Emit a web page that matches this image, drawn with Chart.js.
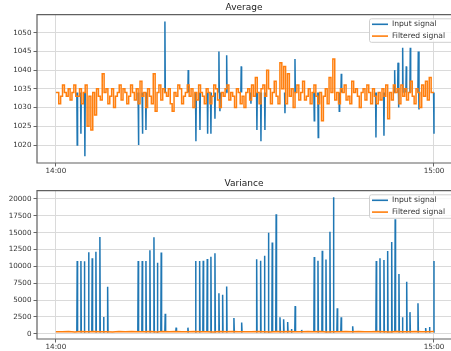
<!DOCTYPE html>
<html>
<head>
<meta charset="utf-8">
<script src="https://cdn.jsdelivr.net/npm/chart.js@4.4.0/dist/chart.umd.min.js"></script>
<style>
  html, body { margin: 0; padding: 0; background: #fff; }
  canvas { position: absolute; left: 0; }
</style>
</head>
<body>
<canvas id="avg-chart" width="451" height="176" style="top:0"></canvas>
<canvas id="var-chart" width="451" height="175" style="top:176px"></canvas>
<script>
'use strict';

const SERIES_LABELS = ['Input signal', 'Filtered signal'];
const BLUE = '#1f77b4';
const ORANGE = '#ff7f0e';

// minutes after 14:00
const xTickValues = [0, 60];
const xTickLabels = ['14:00', '15:00'];

const avgYTicks = [1020, 1025, 1030, 1035, 1040, 1045, 1050];
const varYTicks = [0, 2500, 5000, 7500, 10000, 12500, 15000, 17500, 20000];

// Average, input signal: sits under the filtered line except for these spikes
const avgInputBase = 1034;
const avgSpikeTimes = [3.38, 3.97, 4.60, 13.10, 13.73, 14.29, 17.30, 21.00, 22.22, 22.86,
  24.08, 24.60, 25.24, 25.87, 26.03, 27.10, 29.41, 30.95, 31.90, 32.54, 33.17, 36.35,
  37.94, 41.00, 41.63, 44.97, 45.29, 50.79, 52.06, 53.76, 54.29, 54.37, 55.03, 55.60,
  56.24, 57.51, 57.62, 60.00];
const avgSpikeValues = [1020, 1023, 1017, 1020, 1023, 1024, 1053, 1040, 1021, 1024,
  1023, 1023, 1027, 1045, 1029, 1044, 1041, 1031, 1024, 1021, 1024, 1028.5,
  1043, 1026.5, 1022, 1029, 1039, 1022, 1022.5, 1040, 1042, 1030, 1046, 1041,
  1046, 1045, 1029.5, 1023];

// Average, filtered signal: one value every 0.3 min
const avgFilteredStep = 0.3;
const avgFiltered = [
  1034, 1034, 1031, 1033, 1036, 1034, 1033, 1035, 1032, 1034,
  1036, 1033, 1033, 1035, 1031, 1034, 1036, 1025, 1033, 1024,
  1034, 1028, 1035, 1033, 1032, 1039, 1034, 1035, 1031, 1033,
  1035, 1030, 1033, 1034, 1036, 1032, 1035, 1034, 1031, 1033,
  1036, 1034, 1032, 1035, 1031, 1037, 1033, 1034, 1030, 1035,
  1033, 1031, 1039, 1029, 1034, 1036, 1032, 1035, 1034, 1033,
  1035, 1031, 1029, 1034, 1033, 1036, 1035, 1031, 1033, 1034,
  1036, 1033, 1035, 1030, 1034, 1032, 1036, 1034, 1033, 1031,
  1035, 1034, 1031, 1033, 1036, 1035, 1032, 1030, 1034, 1033,
  1035, 1036, 1032, 1034, 1033, 1030, 1035, 1034, 1031, 1033,
  1030, 1034, 1035, 1032, 1036, 1033, 1038, 1034, 1031, 1035,
  1036, 1033, 1040, 1035, 1031, 1034, 1037, 1033, 1031, 1042,
  1035, 1041, 1031, 1039, 1033, 1035, 1030, 1034, 1036, 1032,
  1034, 1037, 1032, 1033, 1035, 1031, 1034, 1036, 1033, 1031,
  1034, 1026.5, 1033, 1035, 1031, 1038, 1034, 1043, 1032, 1034,
  1031, 1035, 1034, 1036, 1032, 1033, 1031, 1037, 1034, 1035,
  1033, 1030, 1034, 1035, 1032, 1036, 1034, 1031, 1035, 1033,
  1031, 1034, 1032, 1035, 1033, 1036, 1027, 1034, 1032, 1036,
  1034, 1035, 1031, 1036, 1033, 1035, 1032, 1034, 1037, 1033,
  1031, 1035, 1034, 1030, 1036, 1033, 1037, 1032, 1038, 1034,
  1034
];

// Variance, input signal: hidden under the filtered line except for these spikes
const varInputBase = 250;
const varSpikeTimes = [3.38, 3.97, 4.52, 5.19, 5.76, 6.35, 6.98, 7.57, 8.21,
  13.06, 13.70, 14.29, 14.92, 15.56, 16.11, 16.71, 17.35, 19.08, 20.95,
  22.17, 22.81, 23.38, 24.02, 24.60, 25.24, 25.87, 26.46, 27.10, 28.25, 29.48,
  31.86, 32.49, 33.10, 33.73, 34.33, 34.95, 35.56, 36.14, 36.78, 37.38, 37.97, 39.00,
  41.00, 41.59, 42.27, 42.86, 43.49, 44.05, 44.65, 45.27, 47.10,
  50.84, 51.43, 52.06, 52.65, 53.29, 53.84, 54.44, 55.00, 55.67, 56.19, 57.46, 58.68, 59.29, 60.00];
const varSpikeValues = [10800, 10800, 10750, 12100, 11200, 12150, 14350, 2480, 6950,
  10800, 10800, 10800, 12400, 14300, 10550, 12050, 2950, 890, 890,
  10800, 10800, 10840, 11090, 11430, 11930, 6000, 5790, 7000, 2330, 1660,
  11050, 10820, 11580, 15000, 13540, 17730, 2450, 2140, 1730, 700, 4090, 550,
  11370, 10820, 12330, 11020, 15150, 20250, 3770, 2450, 1090,
  10800, 11190, 10940, 12280, 13600, 17000, 8860, 2430, 7720, 3200, 4510, 830, 1000, 10800];

// Variance, filtered signal: one value a minute
const varFilteredStep = 1;
const varFiltered = [300, 280, 320, 260, 310, 290, 340, 270, 300, 250,
  330, 290, 310, 270, 300, 340, 260, 310, 290, 320,
  270, 300, 330, 280, 300, 260, 310, 290, 340, 280,
  300, 270, 320, 300, 260, 310, 290, 330, 270, 300,
  310, 280, 320, 260, 300, 290, 340, 280, 310, 270,
  300, 320, 290, 260, 310, 300, 280, 330, 290, 300, 310];

const FONT = 'DejaVu Sans';
const TEXT_COLOR = '#333333';

// Input line pieces: a narrow excursion from the base value for every spike,
// with a gap between spikes that do not touch.
function spikePoints(base, times, values, end) {
  const w = 0.06;
  const pts = [];
  times.forEach((t, i) => {
    const last = pts[pts.length - 1];
    if (last && t - w <= last.x) {
      pts.pop();
    } else {
      if (last) pts.push({x: (last.x + t - w) / 2, y: null});
      pts.push({x: t - w, y: base});
    }
    pts.push({x: t, y: values[i]});
    if (t + w <= end) pts.push({x: t + w, y: base});
  });
  return pts;
}

function gridPoints(step, values) {
  return values.map((v, i) => ({x: i * step, y: v}));
}

const framePlugin = {
  id: 'frame',
  afterDatasetsDraw(chart) {
    const {ctx, chartArea: a} = chart;
    ctx.save();
    ctx.strokeStyle = '#606060';
    ctx.lineWidth = 1.2;
    ctx.beginPath();
    ctx.moveTo(a.right, a.top);
    ctx.lineTo(a.left, a.top);
    ctx.lineTo(a.left, a.bottom);
    ctx.lineTo(a.right, a.bottom);
    ctx.stroke();
    ctx.restore();
  }
};

// matplotlib style legend box in the upper right corner
const boxLegendPlugin = {
  id: 'boxLegend',
  afterDraw(chart) {
    const {ctx, chartArea: a} = chart;
    const left = a.right - 82;
    const top = a.top + 3.6;
    ctx.save();
    ctx.fillStyle = 'rgba(255,255,255,0.8)';
    ctx.strokeStyle = '#cfcfcf';
    ctx.lineWidth = 1;
    ctx.beginPath();
    ctx.roundRect(left + 0.5, top + 0.5, 90, 23.5, 2);
    ctx.fill();
    ctx.stroke();
    ctx.font = '7.6px "' + FONT + '"';
    ctx.textBaseline = 'middle';
    chart.data.datasets.forEach((ds, i) => {
      const y = top + 6 + i * 11.8;
      ctx.strokeStyle = ds.borderColor;
      ctx.lineWidth = 1.6;
      ctx.beginPath();
      ctx.moveTo(left + 3, y);
      ctx.lineTo(left + 19, y);
      ctx.stroke();
      ctx.fillStyle = TEXT_COLOR;
      ctx.fillText(ds.label, left + 23, y);
    });
    ctx.restore();
  }
};

function makeChart(canvas, title, input, filtered, stepped, yMin, yMax, yTicks) {
  const tickFont = {family: FONT, size: 7.2};
  const axisHeight = canvas.height - 163;
  return new Chart(canvas, {
    type: 'line',
    data: {
      datasets: [
        // higher order is drawn first, so the filtered line covers the input
        {label: SERIES_LABELS[0], data: input, borderColor: BLUE, borderWidth: 1.5, order: 2},
        {label: SERIES_LABELS[1], data: filtered, borderColor: ORANGE, borderWidth: 1.5,
          stepped: stepped, order: 1}
      ]
    },
    options: {
      responsive: false,
      animation: false,
      events: [],
      parsing: false,
      elements: {point: {radius: 0}, line: {tension: 0}},
      layout: {padding: 0},
      scales: {
        x: {
          type: 'linear',
          min: -3,
          max: 62.7,
          afterBuildTicks: s => { s.ticks = xTickValues.map(v => ({value: v})); },
          afterFit: s => { s.height = axisHeight; },
          ticks: {
            callback: (v, i) => xTickLabels[i],
            font: tickFont, color: TEXT_COLOR, padding: 0,
            maxRotation: 0, autoSkip: false
          },
          grid: {color: '#dadada', lineWidth: 1, tickColor: '#666', tickLength: 3.5},
          border: {display: false}
        },
        y: {
          min: yMin,
          max: yMax,
          afterBuildTicks: s => { s.ticks = yTicks.map(v => ({value: v})); },
          afterFit: s => { s.width = 37; },
          ticks: {
            callback: v => String(v),
            font: tickFont, color: TEXT_COLOR, padding: 2, autoSkip: false
          },
          grid: {color: '#dadada', lineWidth: 1, tickColor: '#666', tickLength: 3.5},
          border: {display: false}
        }
      },
      plugins: {
        legend: {display: false},
        tooltip: {enabled: false},
        title: {
          display: true,
          text: title,
          fullSize: false,
          color: '#222',
          font: {family: FONT, size: 9, weight: 'normal', lineHeight: 1.2},
          padding: {top: 2, bottom: 1.9}
        }
      }
    },
    plugins: [framePlugin, boxLegendPlugin]
  });
}

makeChart(document.getElementById('avg-chart'), 'Average',
  spikePoints(avgInputBase, avgSpikeTimes, avgSpikeValues, 60),
  gridPoints(avgFilteredStep, avgFiltered), 'middle',
  1015.2, 1054.8, avgYTicks);

makeChart(document.getElementById('var-chart'), 'Variance',
  spikePoints(varInputBase, varSpikeTimes, varSpikeValues, 60),
  gridPoints(varFilteredStep, varFiltered), false,
  -790, 21230, varYTicks);
</script>
</body>
</html>
